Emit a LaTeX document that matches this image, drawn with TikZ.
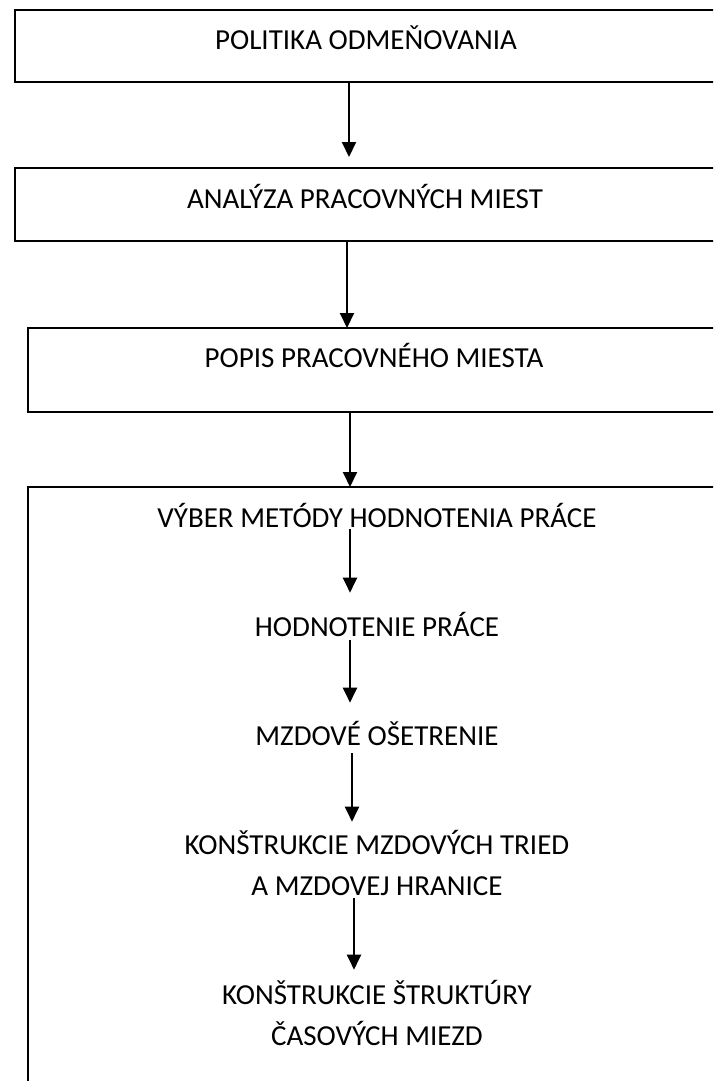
\documentclass[tikz,border=0pt]{standalone}
\usepackage{fontspec}
\setmainfont{Carlito}
\usetikzlibrary{arrows.meta}
\tikzset{
  box/.style={draw=black, line width=2pt, rectangle, anchor=north west, inner sep=0pt, outer sep=0pt},
  lbl/.style={inner sep=0pt, outer sep=0pt, anchor=base, text height=18.3pt, text depth=0pt,
              font=\fontsize{29}{41}\selectfont},
  lbltwo/.style={lbl, align=center, text height=59.3pt},
  arr/.style={line width=2pt, -{Triangle[length=15pt,width=14pt]}}
}
\begin{document}
\begin{tikzpicture}[x=1pt,y=-1pt]
\clip (0,0) rectangle (713,1081);
% outer boxes
\node[box, minimum width=760pt, minimum height=72pt] (b1) at (15,10) {};
\node[box, minimum width=760pt, minimum height=73pt] (b2) at (15,168) {};
\node[box, minimum width=760pt, minimum height=84pt] (b3) at (28,328) {};
\node[box, minimum width=760pt, minimum height=640pt] (b4) at (28,487) {};
% box labels
\node[lbl] (t1) at (366,50) {POLITIKA ODMEŇOVANIA};
\node[lbl] (t2) at (365,208) {ANALÝZA PRACOVNÝCH MIEST};
\node[lbl] (t3) at (374,367) {POPIS PRACOVNÉHO MIESTA};
% inner steps
\node[lbl] (s1) at (377,527) {VÝBER METÓDY HODNOTENIA PRÁCE};
\node[lbl] (s2) at (377,636) {HODNOTENIE PRÁCE};
\node[lbl] (s3) at (377,745) {MZDOVÉ OŠETRENIE};
\node[lbltwo] (s4) at (377,895) {KONŠTRUKCIE MZDOVÝCH TRIED\\A MZDOVEJ HRANICE};
\node[lbltwo] (s5) at (377,1045) {KONŠTRUKCIE ŠTRUKTÚRY\\ČASOVÝCH MIEZD};
% arrow columns
\coordinate (c1) at (349,0);
\coordinate (c2) at (347,0);
\coordinate (c3) at (350,0);
\coordinate (c4) at (350,0);
\coordinate (c5) at (352,0);
\coordinate (c6) at (354,0);
% outer connectors
\draw[arr, shorten >=11pt] (b1.south -| c1) -- (b2.north -| c1);
\draw[arr] (b2.south -| c2) -- (b3.north -| c2);
\draw[arr] (b3.south -| c3) -- (b4.north -| c3);
% inner connectors
\draw[arr, shorten <=2pt, shorten >=25pt] (s1.south -| c3) -- (s2.north -| c3);
\draw[arr, shorten <=4pt, shorten >=24pt] (s2.south -| c4) -- (s3.north -| c4);
\draw[arr, shorten <=8pt, shorten >=14pt] (s3.south -| c5) -- (s4.north -| c5);
\draw[arr, shorten <=3pt, shorten >=16pt] (s4.south -| c6) -- (s5.north -| c6);
\end{tikzpicture}
\end{document}
